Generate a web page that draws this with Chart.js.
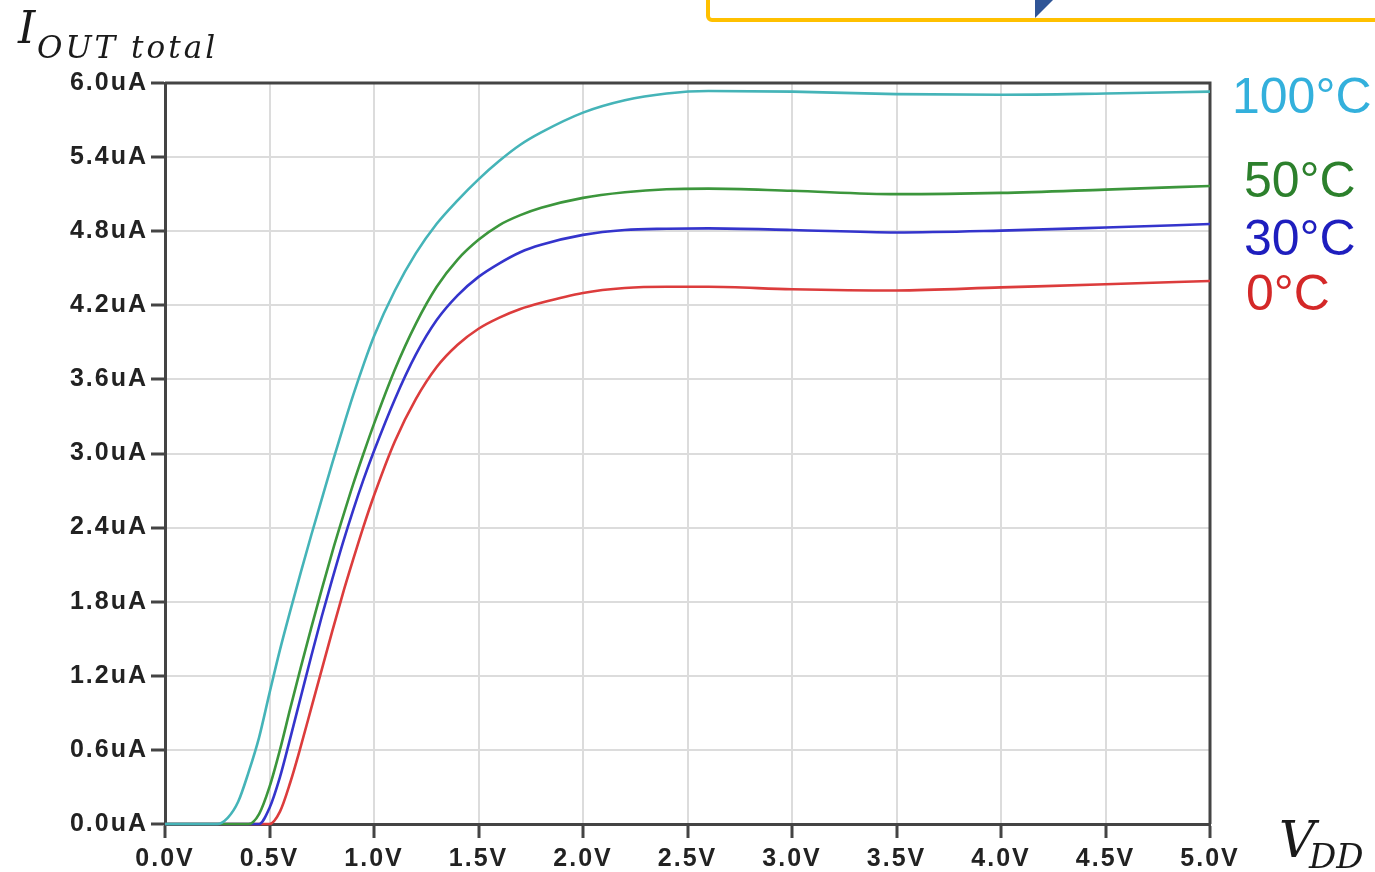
<!DOCTYPE html>
<html>
<head>
<meta charset="utf-8">
<title>I_OUT total vs VDD</title>
<script src="https://cdn.jsdelivr.net/npm/chart.js@4.4.1/dist/chart.umd.min.js"></script>
<style>
  html, body { margin: 0; padding: 0; background: #ffffff; overflow: hidden; }
  canvas { display: block; }
</style>
</head>
<body>
<canvas id="chart" width="1375" height="872"></canvas>
<script>
// Supply voltage sweep (V)
const vdd = [0, 0.25, 0.3, 0.35, 0.4, 0.45, 0.5, 0.55, 0.6, 0.65, 0.7, 0.75, 0.8, 0.85, 0.9, 0.95,
             1.0, 1.1, 1.2, 1.3, 1.4, 1.5, 1.6, 1.7, 1.8, 2.0, 2.2, 2.4, 2.6, 3.0, 3.5, 4.0, 4.5, 5.0];

// Total output current (uA) at each temperature
const iOut100C = [0, 0, 0.05, 0.18, 0.42, 0.70, 1.06, 1.41, 1.73, 2.04, 2.34, 2.63, 2.92, 3.20, 3.47, 3.72,
                  3.95, 4.32, 4.62, 4.86, 5.05, 5.22, 5.37, 5.50, 5.60, 5.76, 5.86, 5.915, 5.935, 5.93, 5.91, 5.905, 5.915, 5.93];
const iOut50C  = [0, 0, 0, 0, 0, 0.08, 0.30, 0.60, 0.94, 1.27, 1.59, 1.90, 2.20, 2.48, 2.75, 3.00,
                  3.24, 3.68, 4.05, 4.35, 4.57, 4.73, 4.85, 4.93, 4.99, 5.07, 5.115, 5.14, 5.145, 5.127, 5.10, 5.11, 5.137, 5.166];
const iOut30C  = [0, 0, 0, 0, 0, 0, 0.13, 0.38, 0.70, 1.03, 1.36, 1.68, 1.98, 2.27, 2.54, 2.79,
                  3.02, 3.44, 3.80, 4.08, 4.28, 4.43, 4.54, 4.63, 4.69, 4.77, 4.81, 4.82, 4.823, 4.81, 4.79, 4.805, 4.83, 4.858];
const iOut0C   = [0, 0, 0, 0, 0, 0, 0, 0.10, 0.34, 0.63, 0.94, 1.25, 1.56, 1.86, 2.14, 2.41,
                  2.66, 3.10, 3.44, 3.70, 3.88, 4.01, 4.10, 4.17, 4.22, 4.30, 4.34, 4.35, 4.35, 4.33, 4.32, 4.345, 4.37, 4.397];

// Series names and tick values
const seriesNames = ['100°C', '50°C', '30°C', '0°C'];
const xTickValues = [0, 0.5, 1.0, 1.5, 2.0, 2.5, 3.0, 3.5, 4.0, 4.5, 5.0];
const yTickValues = [0, 0.6, 1.2, 1.8, 2.4, 3.0, 3.6, 4.2, 4.8, 5.4, 6.0];

// Styling
const lineColors  = ['#45b4b8', '#3c963c', '#3434cc', '#dc3c3c'];
const labelColors = ['#33b0dc', '#2c802c', '#1e1ebe', '#d42828'];
const labelSpots  = [
  { x: 1232, y: 113 },
  { x: 1244, y: 197 },
  { x: 1244, y: 255 },
  { x: 1246, y: 310 }
];
const axisColor = '#444444';
const gridColor = '#dcdcdc';

const seriesValues = [iOut100C, iOut50C, iOut30C, iOut0C];

const datasets = seriesValues.map((vals, k) => ({
  label: seriesNames[k],
  data: vdd.map((v, i) => ({ x: v, y: vals[i] })),
  borderColor: lineColors[k],
  borderWidth: 2.6,
  pointRadius: 0,
  fill: false,
  cubicInterpolationMode: 'monotone',
  clip: false
}));

// Text spacing for the axis tick labels, titles, frame, series labels and callout
const decorations = {
  id: 'decorations',
  beforeDraw(chart) {
    chart.ctx.letterSpacing = '2px';
  },
  beforeDatasetsDraw(chart) {
    const ctx = chart.ctx;
    ctx.letterSpacing = '0px';
    const a = chart.chartArea;
    ctx.save();
    ctx.strokeStyle = axisColor;
    ctx.lineWidth = 3;
    ctx.beginPath();
    ctx.moveTo(a.left, a.top);
    ctx.lineTo(a.right, a.top);
    ctx.lineTo(a.right, a.bottom);
    ctx.stroke();
    ctx.restore();
  },
  afterDraw(chart) {
    const ctx = chart.ctx;
    ctx.save();
    ctx.letterSpacing = '0px';
    ctx.textBaseline = 'alphabetic';
    ctx.textAlign = 'left';

    // Series labels at the right end of the curves
    ctx.font = '50px "Liberation Sans", Arial, sans-serif';
    seriesNames.forEach((name, k) => {
      ctx.fillStyle = labelColors[k];
      ctx.fillText(name, labelSpots[k].x, labelSpots[k].y);
    });

    // Y axis title: I_OUT total
    ctx.fillStyle = '#1a1a1a';
    ctx.font = 'italic 44px "DejaVu Serif", serif';
    ctx.fillText('I', 18, 43);
    ctx.letterSpacing = '3px';
    ctx.font = 'italic 31px "DejaVu Serif", serif';
    ctx.fillText('OUT total', 37, 58);

    // X axis title: V_DD
    ctx.letterSpacing = '0px';
    ctx.font = 'italic 50px "DejaVu Serif", serif';
    ctx.fillText('V', 1279, 857);
    ctx.font = 'italic 34px "DejaVu Serif", serif';
    ctx.fillText('DD', 1309, 868);

    // Callout box edge along the top
    ctx.strokeStyle = '#ffc000';
    ctx.lineWidth = 4;
    ctx.beginPath();
    ctx.roundRect(708, -30, 720, 50, 4);
    ctx.stroke();
    ctx.fillStyle = '#2f5597';
    ctx.beginPath();
    ctx.moveTo(1035, 0);
    ctx.lineTo(1053, 0);
    ctx.lineTo(1035, 18);
    ctx.closePath();
    ctx.fill();
    ctx.restore();
  }
};

const tickFont = { family: '"Liberation Sans", Arial, sans-serif', size: 25, weight: 'bold' };

new Chart(document.getElementById('chart'), {
  type: 'line',
  data: { datasets },
  options: {
    responsive: false,
    animation: false,
    devicePixelRatio: 1,
    layout: { padding: { top: 83, right: 165, left: 0, bottom: 0 } },
    plugins: {
      legend: { display: false },
      tooltip: { enabled: false }
    },
    scales: {
      x: {
        type: 'linear',
        min: 0,
        max: 5,
        afterBuildTicks: s => { s.ticks = xTickValues.map(v => ({ value: v })); },
        afterFit: s => { s.height = 48; },
        ticks: {
          color: '#222222',
          font: tickFont,
          padding: 6,
          maxRotation: 0,
          autoSkip: false,
          callback: v => Number(v).toFixed(1) + 'V'
        },
        grid: {
          color: gridColor,
          lineWidth: 2,
          drawTicks: true,
          tickLength: 14,
          tickColor: axisColor,
          tickWidth: 3
        },
        border: { display: true, color: axisColor, width: 3 }
      },
      y: {
        type: 'linear',
        min: 0,
        max: 6,
        afterBuildTicks: s => { s.ticks = yTickValues.map(v => ({ value: v })); },
        afterFit: s => { s.width = 165; },
        ticks: {
          color: '#222222',
          font: tickFont,
          padding: 3,
          autoSkip: false,
          callback: v => Number(v).toFixed(1) + 'uA'
        },
        grid: {
          color: gridColor,
          lineWidth: 2,
          drawTicks: true,
          tickLength: 14,
          tickColor: axisColor,
          tickWidth: 3
        },
        border: { display: true, color: axisColor, width: 3 }
      }
    }
  },
  plugins: [decorations]
});
</script>
</body>
</html>
